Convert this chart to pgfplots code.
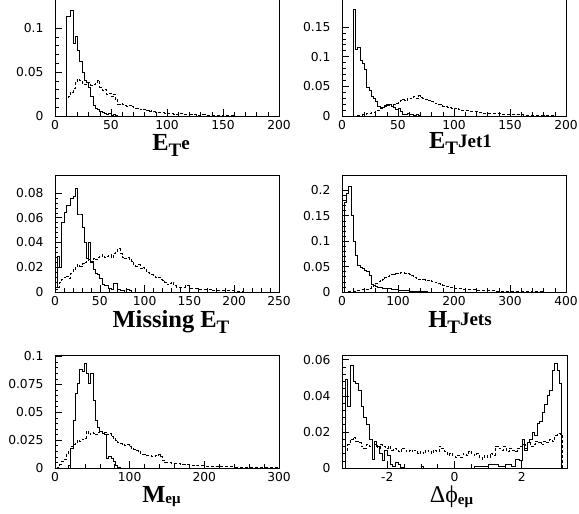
\documentclass[border=0pt]{standalone}
\usepackage{fontspec}
\setmainfont{Liberation Serif}
\newfontfamily\tickfont{DejaVu Sans}
\usepackage{pgfplots}
\pgfplotsset{compat=1.18}
\newcommand{\LA}{\fontsize{24.5}{24.5}\selectfont\bfseries}
\newcommand{\LB}{\fontsize{19}{19}\selectfont\bfseries}
\newcommand{\LC}{\fontsize{15}{15}\selectfont\bfseries}
\pgfplotsset{
  rootax/.style={
    scale only axis, width=224pt, height=117pt, anchor=south west,
    ymin=0,
    axis line style={line width=0.6pt, black},
    tick align=inside, xtick pos=bottom, ytick pos=left,
    major tick length=7pt, minor tick length=3.5pt,
    every tick/.style={black, line width=0.5pt},
    minor x tick num=4, minor y tick num=4,
    tick label style={font=\tickfont\fontsize{12.3}{12.3}\selectfont},
    /pgf/number format/assume math mode=true,
    yticklabel style={/pgf/number format/fixed, /pgf/number format/precision=3, xshift=-8pt},
    xticklabel style={yshift=-1pt},
    scaled y ticks=false, scaled x ticks=false,
    xlabel style={at={(axis description cs:0.5,0)}, anchor=base, inner sep=0pt},
  },
  hs/.style={const plot, black, line width=0.7pt, no marks},
  hd/.style={const plot, black, line width=0.75pt, no marks, dash pattern=on 3pt off 2pt},
}
\begin{document}
\begin{tikzpicture}
\useasboundingbox (0pt,0pt) rectangle (579pt,514pt);
\clip (0pt,0pt) rectangle (579pt,514pt);

% ---------- Panel 1: E_T^e ----------
\begin{axis}[rootax, at={(55pt,398pt)},
  xmin=0, xmax=200, ymax=0.133,
  xtick={0,50,100,150,200}, ytick={0,0.05,0.1},
  xlabel style={yshift=-34.5pt, xshift=4pt},
  xlabel={{\LA E}\raisebox{-6pt}{\LB T}\raisebox{1pt}{\LB e}}]
\addplot[hs] coordinates {(10,0) (10,.113) (12,.113) (14,.120) (16,.083) (18,.090) (20,.075) (22,.062) (24,.050) (26,.040) (28,.038) (30,.032) (32,.022) (34,.012) (36,.009) (38,.007) (40,.005) (42,.004) (44,.003) (46,.002) (48,.003) (50,.001) (52,.002) (54,.001) (56,0) (200,0)};
\addplot[hd] coordinates {(10,0) (10,.020) (12,.022) (14,.027) (16,.031) (18,.038) (20,.042) (22,.040) (24,.037) (26,.036) (28,.037) (30,.038) (32,.035) (34,.036) (36,.038) (38,.040) (40,.033) (42,.029) (44,.030) (46,.025) (48,.026) (50,.022) (52,.025) (54,.019) (56,.013) (58,.014) (60,.013) (62,.012) (64,.011) (66,.012) (68,.011) (70,.010) (72,.009) (74,.009) (76,.007) (78,.008) (80,.007) (82,.006) (84,.005) (86,.006) (88,.005) (90,.004) (94,.004) (98,.003) (102,.003) (106,.002) (110,.003) (114,.002) (118,.002) (122,.002) (126,.001) (130,.002) (134,.001) (140,.001) (150,.0005) (160,0) (200,0)};
\end{axis}

% ---------- Panel 2: E_T^Jet1 ----------
\begin{axis}[rootax, at={(342pt,398pt)},
  xmin=0, xmax=200, ymax=0.197,
  xtick={0,50,100,150,200}, ytick={0,0.05,0.1,0.15},
  xlabel style={yshift=-33pt, xshift=6.5pt},
  xlabel={{\LA E}\raisebox{-6pt}{\LB T}\raisebox{1.5pt}{\LB Jet1}}]
\addplot[hs] coordinates {(10,0) (10,.179) (12,.113) (14,.116) (16,.093) (18,.089) (20,.078) (22,.049) (24,.044) (26,.033) (28,.030) (30,.024) (32,.016) (34,.013) (36,.015) (38,.017) (40,.020) (42,.019) (44,.016) (46,.015) (48,.011) (50,.013) (52,.007) (54,.003) (56,.002) (58,.004) (60,.002) (62,.003) (64,.001) (66,.002) (68,.001) (70,0) (200,0)};
\addplot[hd] coordinates {(14,0) (14,.001) (18,.002) (22,.004) (26,.006) (30,.010) (34,.014) (38,.018) (42,.020) (44,.017) (46,.019) (48,.022) (50,.024) (52,.026) (54,.028) (56,.027) (58,.030) (60,.029) (62,.031) (64,.033) (66,.030) (68,.034) (70,.031) (72,.029) (74,.028) (76,.026) (78,.027) (80,.024) (82,.022) (84,.021) (86,.020) (88,.019) (90,.017) (92,.016) (94,.015) (96,.014) (98,.013) (100,.012) (102,.013) (104,.011) (106,.010) (108,.010) (110,.009) (114,.008) (118,.007) (122,.006) (126,.005) (130,.005) (134,.004) (138,.004) (142,.003) (146,.003) (150,.002) (156,.002) (162,.001) (170,.001) (180,.0005) (190,0) (200,0)};
\end{axis}

% ---------- Panel 3: Missing E_T ----------
\begin{axis}[rootax, at={(55pt,222pt)},
  xmin=0, xmax=250, ymax=0.0945,
  xtick={0,50,100,150,200,250}, ytick={0,0.02,0.04,0.06,0.08},
  xlabel style={yshift=-35.5pt, xshift=4pt},
  xlabel={{\LA Missing E}\raisebox{-6.5pt}{\LB T}}]
\addplot[hs] coordinates {(0,.004) (2.5,.029) (5,.020) (7.5,.056) (10,.064) (12.5,.070) (15,.070) (17.5,.076) (20,.077) (22.5,.084) (25,.063) (27.5,.063) (30,.052) (32.5,.040) (35,.027) (37.5,.040) (40,.025) (42.5,.018) (45,.015) (47.5,.014) (50,.011) (52.5,.006) (55,.005) (57.5,.005) (60,.003) (62.5,.002) (65,.007) (67.5,.007) (70,.002) (72.5,.001) (75,.001) (77.5,0) (80,.002) (82.5,.001) (85,0) (250,0)};
\addplot[hd] coordinates {(0,.002) (2.5,.004) (5,.008) (7.5,.010) (10,.012) (12.5,.013) (15,.011) (17.5,.015) (20,.018) (22.5,.020) (25,.022) (27.5,.021) (30,.023) (32.5,.024) (35,.025) (37.5,.026) (40,.024) (42.5,.027) (45,.026) (47.5,.028) (50,.029) (52.5,.030) (55,.028) (57.5,.029) (60,.030) (62.5,.028) (65,.031) (67.5,.033) (70,.035) (72.5,.031) (75,.028) (77.5,.027) (80,.028) (82.5,.026) (85,.025) (87.5,.022) (90,.021) (92.5,.022) (95,.019) (97.5,.020) (100,.018) (102.5,.016) (105,.015) (107.5,.014) (110,.013) (112.5,.012) (115,.012) (117.5,.010) (120,.009) (122.5,.008) (125,.006) (127.5,.007) (130,.008) (132.5,.005) (135,.004) (140,.004) (145,.005) (150,.003) (155,.003) (160,.002) (165,.002) (170,.002) (175,.001) (180,.001) (190,.001) (200,.0005) (210,0) (250,0)};
\end{axis}

% ---------- Panel 4: H_T^Jets ----------
\begin{axis}[rootax, at={(342pt,222pt)},
  xmin=0, xmax=400, ymax=0.230,
  xtick={0,100,200,300,400}, ytick={0,0.05,0.1,0.15,0.2},
  xlabel style={yshift=-35.5pt, xshift=6pt},
  xlabel={{\LA H}\raisebox{-6.5pt}{\LB T}\raisebox{1.5pt}{\LB Jets}}]
\addplot[hs] coordinates {(4,0) (4,.177) (8,.193) (12,.207) (16,.151) (20,.100) (24,.072) (28,.052) (32,.049) (36,.046) (40,.043) (44,.040) (48,.033) (52,.016) (56,.013) (60,.012) (64,.010) (68,.009) (72,.008) (76,.008) (80,.007) (84,.007) (88,.006) (92,.005) (96,.005) (100,.004) (104,.004) (108,.003) (112,.003) (116,.003) (120,.002) (128,.002) (136,.001) (144,.001) (152,0) (400,0)};
\addplot[hd] coordinates {(12,0) (12,.001) (20,.002) (28,.003) (36,.005) (44,.006) (48,.008) (52,.011) (56,.013) (60,.016) (64,.020) (68,.023) (72,.025) (76,.028) (80,.031) (84,.032) (88,.034) (92,.035) (96,.036) (100,.037) (104,.038) (108,.038) (112,.037) (116,.036) (120,.035) (124,.032) (128,.029) (132,.027) (136,.025) (140,.024) (144,.024) (148,.023) (152,.023) (156,.022) (160,.020) (164,.019) (168,.018) (172,.016) (176,.014) (180,.013) (184,.012) (188,.011) (192,.010) (196,.009) (200,.008) (208,.007) (216,.006) (224,.005) (232,.005) (240,.004) (248,.004) (256,.003) (264,.003) (272,.002) (280,.002) (292,.0015) (304,.001) (320,.001) (340,.0005) (360,0) (400,0)};
\end{axis}

% ---------- Panel 5: M_emu ----------
\begin{axis}[rootax, at={(55pt,46pt)}, height=113pt,
  xmin=0, xmax=300, ymax=0.1013,
  xtick={0,100,200,300}, ytick={0,0.025,0.05,0.075,0.1},
  xlabel style={yshift=-34.5pt, xshift=-5.5pt},
  xlabel={{\LA M}\raisebox{-1.5pt}{\LC eμ}}]
\addplot[hs] coordinates {(18,0) (18,.002) (21,.018) (24,.043) (27,.067) (30,.076) (33,.088) (36,.087) (39,.094) (42,.085) (45,.076) (48,.085) (51,.061) (54,.043) (57,.036) (60,.033) (63,.031) (66,.030) (69,.009) (72,.010) (75,.009) (78,.006) (81,.002) (84,.001) (87,0) (300,0)};
\addplot[hd] coordinates {(3,0) (3,.001) (6,.003) (9,.006) (12,.008) (15,.012) (18,.015) (21,.019) (24,.021) (27,.023) (30,.025) (33,.024) (36,.026) (39,.027) (42,.033) (45,.030) (48,.032) (51,.031) (54,.030) (57,.032) (60,.033) (63,.031) (66,.032) (69,.030) (72,.031) (75,.028) (78,.027) (81,.025) (84,.023) (87,.022) (90,.021) (93,.020) (96,.021) (99,.019) (102,.018) (105,.017) (108,.016) (111,.015) (114,.013) (117,.012) (120,.012) (123,.011) (126,.011) (129,.010) (132,.010) (135,.011) (138,.012) (141,.010) (144,.007) (147,.005) (150,.005) (156,.0045) (162,.004) (168,.003) (174,.003) (180,.0025) (190,.002) (200,.0018) (210,.0015) (220,.0012) (240,.001) (260,.001) (280,.0008) (300,0)};
\end{axis}

% ---------- Panel 6: Delta phi_emu ----------
\begin{axis}[rootax, at={(342pt,46pt)}, height=113pt, width=225pt,
  xmin=-3.35, xmax=3.35, ymax=0.0626,
  xtick={-2,0,2}, minor x tick num=3, ytick={0,0.02,0.04,0.06},
  xlabel style={yshift=-35pt, xshift=-3pt},
  xlabel={{\fontsize{24}{24}\selectfont Δϕ}\raisebox{-1.5pt}{\LC eμ}}]
\addplot[hs] coordinates {(-3.26,0) (-3.26,.049) (-3.18,.034) (-3.10,.057) (-3.02,.048) (-2.94,.047) (-2.86,.043) (-2.78,.034) (-2.70,.028) (-2.62,.024) (-2.54,.016) (-2.46,.005) (-2.40,.015) (-2.32,.012) (-2.24,.008) (-2.16,.004) (-2.08,.010) (-2.00,.007) (-1.92,.002) (-1.84,.001) (-1.76,.003) (-1.68,.002) (-1.60,.0005) (-1.52,0) (-1.0,.001) (-0.92,0) (0.6,.001) (1.0,.002) (1.3,.001) (1.5,.002) (1.7,.001) (1.82,.005) (1.92,.004) (2.01,.016) (2.08,.010) (2.16,.014) (2.23,.016) (2.31,.020) (2.38,.018) (2.46,.025) (2.53,.026) (2.61,.031) (2.69,.035) (2.76,.040) (2.82,.043) (2.90,.054) (2.97,.058) (3.05,.054) (3.12,.047) (3.18,0)};
\addplot[hd] coordinates {(-3.26,0) (-3.26,.010) (-3.18,.013) (-3.10,.016) (-3.02,.017) (-2.94,.015) (-2.86,.014) (-2.78,.012) (-2.70,.011) (-2.62,.013) (-2.54,.012) (-2.46,.014) (-2.38,.013) (-2.30,.011) (-2.22,.013) (-2.14,.012) (-2.06,.011) (-1.98,.012) (-1.90,.010) (-1.82,.011) (-1.74,.010) (-1.66,.009) (-1.58,.011) (-1.50,.010) (-1.42,.009) (-1.34,.010) (-1.26,.009) (-1.18,.010) (-1.10,.008) (-1.02,.009) (-0.94,.008) (-0.86,.010) (-0.78,.009) (-0.70,.008) (-0.62,.010) (-0.54,.009) (-0.46,.012) (-0.38,.011) (-0.30,.009) (-0.22,.007) (-0.14,.008) (-0.06,.007) (0.02,.006) (0.10,.007) (0.18,.006) (0.26,.008) (0.34,.007) (0.42,.009) (0.50,.008) (0.58,.007) (0.66,.008) (0.74,.006) (0.82,.005) (0.90,.007) (0.98,.006) (1.06,.008) (1.14,.007) (1.22,.012) (1.30,.011) (1.38,.010) (1.46,.012) (1.54,.009) (1.62,.011) (1.70,.010) (1.78,.009) (1.86,.011) (1.94,.012) (2.02,.013) (2.10,.011) (2.18,.014) (2.26,.012) (2.34,.013) (2.42,.015) (2.50,.014) (2.58,.013) (2.66,.015) (2.74,.014) (2.82,.016) (2.90,.015) (2.98,.018) (3.06,.019) (3.14,.018) (3.21,0)};
\end{axis}
\end{tikzpicture}
\end{document}
